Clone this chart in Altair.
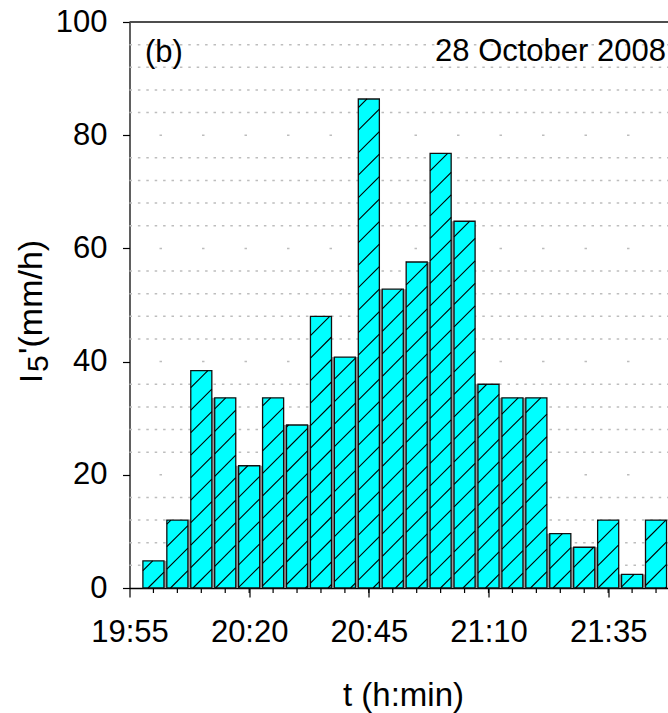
import altair as alt
import pandas as pd

# ---------------- data ----------------
bar_times = ["20:00", "20:05", "20:10", "20:15", "20:20", "20:25", "20:30", "20:35",
             "20:40", "20:45", "20:50", "20:55", "21:00", "21:05", "21:10", "21:15",
             "21:20", "21:25", "21:30", "21:35", "21:40", "21:45"]
intensity = [4.8, 12.0, 38.4, 33.6, 21.6, 33.6, 28.8, 48.0,
             40.8, 86.4, 52.8, 57.6, 76.8, 64.8, 36.0, 33.6,
             33.6, 9.6, 7.2, 12.0, 2.4, 12.0]
x_tick_labels = ["19:55", "20:20", "20:45", "21:10", "21:35"]
y_tick_values = [0, 20, 40, 60, 80, 100]
panel_label = "(b)"
date_label = "28 October 2008"
x_title = "t (h:min)"
y_title_main = "I"
y_title_sub = "5"
y_title_rest = "'(mm/h)"

# ---------------- layout ----------------
W, H = 538.5, 566
XMAX = 112.5
FONT = "Liberation Sans"
ORIGIN = "19:55"


def to_min(s):
    h, m = map(int, s.split(":"))
    oh, om = map(int, ORIGIN.split(":"))
    return h * 60 + m - (oh * 60 + om)


t = [to_min(s) for s in bar_times]
HALF = 2.2

bars = pd.DataFrame({"x0": [v - HALF for v in t], "x1": [v + HALF for v in t],
                     "y0": 0.0, "y1": intensity})

gaps = pd.DataFrame({
    "x0": [t[i] + HALF for i in range(len(t) - 1)],
    "x1": [t[i + 1] - HALF for i in range(len(t) - 1)],
    "y0": 0.0,
    "y1": [min(intensity[i], intensity[i + 1]) for i in range(len(t) - 1)],
})

# hatch segments (45 degree lines in screen space, clipped to each bar)
PXM = W / XMAX
PXU = H / 100.0
SPACING = 22.5
PHASE = 18.5
segs = []
for tt, v in zip(t, intensity):
    x0p, x1p, hp = (tt - HALF) * PXM, (tt + HALF) * PXM, v * PXU
    for k in range(-60, 60):
        c = PHASE + k * SPACING
        lo, hi = max(x0p, c), min(x1p, c + hp)
        if hi - lo > 0.3:
            segs.append({"x0": lo / PXM, "y0": (lo - c) / PXU,
                         "x1": hi / PXM, "y1": (hi - c) / PXU})
hatch = pd.DataFrame(segs)

minor_grid = pd.DataFrame({"y0": [float(v) for v in range(4, 100, 4) if v % 20 != 0]})
major_grid = pd.DataFrame({"y0": [20.0, 40.0, 60.0, 80.0]})
minor_ticks = pd.DataFrame({"x0": [float(v) for v in range(5, 111, 5)]})

xs = alt.Scale(domain=[0, XMAX], nice=False, zero=False)
ys = alt.Scale(domain=[0, 100], nice=False, zero=False)

x_axis = alt.Axis(
    values=[to_min(s) for s in x_tick_labels],
    labelExpr="timeFormat(datetime(2008, 9, 28, 19, 55 + datum.value, 0, 0), '%H:%M')",
    title=x_title, titleFont=FONT, titleFontSize=33, titleFontWeight="normal",
    titleColor="black", titleX=273.5, titleY=117, titleBaseline="alphabetic",
    labelFont=FONT, labelFontSize=31, labelColor="black", labelPadding=20,
    labelFlush=False, labelOverlap=False, labelBaseline="top",
    tickSize=9, tickColor="black", tickWidth=1.2,
    domainColor="black", domainWidth=1.5, grid=False,
)
y_axis = alt.Axis(
    values=y_tick_values, title=None,
    labelFont=FONT, labelFontSize=31, labelColor="black", labelPadding=15.5,
    labelFlush=False, labelOverlap=False,
    tickSize=7, tickColor="black", tickWidth=1.2,
    domainColor="black", domainWidth=1.2, grid=False,
)


def X(field):
    return alt.X(field, type="quantitative", scale=xs, axis=x_axis)


def Y(field):
    return alt.Y(field, type="quantitative", scale=ys, axis=y_axis)


grid_minor = alt.Chart(minor_grid).mark_rule(
    color="#bdbdbd", strokeWidth=1.5, strokeDash=[2.5, 5.9]
).encode(y=Y("y0"), x=alt.value(0), x2=alt.value(W))

grid_major = alt.Chart(major_grid).mark_rule(
    color="#bdbdbd", strokeWidth=1.5, strokeDash=[2.5, 40]
).encode(y=Y("y0"), x=alt.value(30), x2=alt.value(W))

gap_layer = alt.Chart(gaps).mark_rect(color="#999999").encode(
    x=X("x0"), x2="x1:Q", y=Y("y0"), y2="y1:Q",
)

bar_layer = alt.Chart(bars).mark_rect(
    fill="#00ffff", stroke="#111111", strokeWidth=1.3
).encode(
    x=X("x0"), x2="x1:Q", y=Y("y0"), y2="y1:Q",
)

hatch_layer = alt.Chart(hatch).mark_rule(color="#000000", strokeWidth=1.1).encode(
    x=X("x0"), x2="x1:Q", y=Y("y0"), y2="y1:Q",
)

tick_layer = alt.Chart(minor_ticks).mark_rule(color="black", strokeWidth=1.2).encode(
    x=X("x0"), y=alt.value(H), y2=alt.value(H + 5),
)

top_line = alt.Chart(pd.DataFrame({"a": [0]})).mark_rule(
    color="#4d4d4d", strokeWidth=2
).encode(x=alt.value(0), x2=alt.value(W), y=alt.value(0))

txt_b = alt.Chart(pd.DataFrame({"label": [panel_label]})).mark_text(
    font=FONT, fontSize=31, align="left", baseline="alphabetic", color="black"
).encode(text="label:N", x=alt.value(15.5), y=alt.value(39.7))

txt_date = alt.Chart(pd.DataFrame({"label": [date_label]})).mark_text(
    font=FONT, fontSize=31, align="right", baseline="alphabetic", color="black"
).encode(text="label:N", x=alt.value(536.5), y=alt.value(39))

# rotated y-axis title built from three pieces (I, subscript 5, rest)
yt_main = alt.Chart(pd.DataFrame({"label": [y_title_main]})).mark_text(
    font=FONT, fontSize=32, align="left", baseline="alphabetic", angle=270, color="black"
).encode(text="label:N", x=alt.value(-87.8), y=alt.value(361))

yt_sub = alt.Chart(pd.DataFrame({"label": [y_title_sub]})).mark_text(
    font=FONT, fontSize=30, align="left", baseline="alphabetic", angle=270, color="black"
).encode(text="label:N", x=alt.value(-81.5), y=alt.value(350))

yt_rest = alt.Chart(pd.DataFrame({"label": [y_title_rest]})).mark_text(
    font=FONT, fontSize=34, align="left", baseline="alphabetic", angle=270, color="black"
).encode(text="label:N", x=alt.value(-87.8), y=alt.value(332))

chart = alt.layer(
    grid_minor, grid_major, gap_layer, bar_layer, hatch_layer, tick_layer,
    top_line, txt_b, txt_date, yt_main, yt_sub, yt_rest
).properties(
    width=W, height=H,
    autosize=alt.AutoSizeParams(type="none"),
    padding={"left": 129.5, "top": 22, "right": 0, "bottom": 125},
).configure_view(stroke=None).configure(background="white")

chart.save("out.html", embed_options={"renderer": "svg", "actions": False})
